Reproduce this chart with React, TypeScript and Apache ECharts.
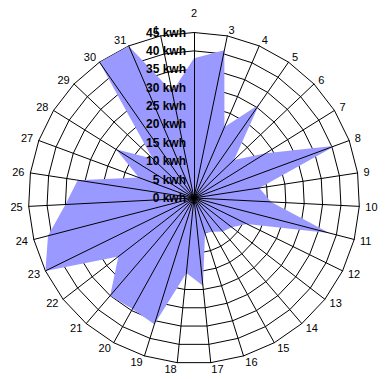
import React, { useEffect, useRef } from 'react';
import * as echarts from 'echarts';

// Categories clockwise from the top (the series starts on day 2 and ends on day 1)
const categories = [
  '2', '3', '4', '5', '6', '7', '8', '9', '10', '11', '12', '13', '14', '15', '16',
  '17', '18', '19', '20', '21', '22', '23', '24', '25', '26', '27', '28', '29', '30', '31', '1',
];
// kWh per day
const values = [
  38, 41, 21, 31, 15, 23, 41, 18, 21, 38, 16, 13, 12, 10.5, 10,
  24, 20.5, 36, 34.5, 35, 26, 45, 41, 35, 32, 16, 25, 15.5, 45, 45, 29.5,
];
const axisMin = 0;
const axisMax = 45;
const axisStep = 5;
const unit = 'kwh';

const FONT = '"Liberation Sans", Arial, sans-serif';

export default function App() {
  const ref = useRef<HTMLDivElement>(null);
  useEffect(() => {
    if (!ref.current) return;
    const chart = echarts.init(ref.current, undefined, { renderer: 'svg' });
    const n = categories.length;
    // ECharts radar runs counter-clockwise; reorder so categories run clockwise
    const order = [0];
    for (let i = n - 1; i >= 1; i--) order.push(i);
    const splitNumber = (axisMax - axisMin) / axisStep;
    const baseIndicators = order.map((i, k) =>
      k === 0
        ? { name: categories[i], min: axisMin, max: axisMax, nameGap: 14 }
        : { name: categories[i], min: axisMin, max: axisMax }
    );
    const topIndicators = order.map((i, k) =>
      k === 0
        ? { name: categories[i], min: axisMin, max: axisMax, axisLabel: { show: true } }
        : { name: categories[i], min: axisMin, max: axisMax }
    );
    const common = {
      center: [194, 198],
      radius: 165.5,
      startAngle: 90,
      splitNumber,
      shape: 'polygon' as const,
    };
    chart.setOption({
      animation: false,
      backgroundColor: '#ffffff',
      radar: [
        {
          ...common,
          z: 0,
          indicator: baseIndicators,
          axisName: {
            show: true,
            color: '#000',
            fontFamily: FONT,
            fontSize: 11,
          },
          nameGap: 6,
          axisLine: { show: false },
          splitLine: { show: true, lineStyle: { color: '#000', width: 1 } },
          splitArea: { show: false },
          axisLabel: { show: false },
          axisTick: { show: false },
        },
        {
          ...common,
          z: 5,
          indicator: topIndicators,
          axisName: { show: false },
          axisLine: { show: true, lineStyle: { color: '#000', width: 1 } },
          splitLine: { show: false },
          splitArea: { show: false },
          axisTick: { show: false },
          axisLabel: {
            show: false,
            color: '#000',
            fontFamily: FONT,
            fontSize: 12,
            fontWeight: 'bold',
            margin: 8,
            formatter: (v: number) => `${v} ${unit}`,
          },
        },
      ],
      series: [
        {
          type: 'radar',
          radarIndex: 0,
          z: 2,
          symbol: 'none',
          lineStyle: { width: 0, color: '#9999ff' },
          areaStyle: { color: '#9999ff', opacity: 1 },
          data: [{ value: order.map((i) => values[i]), name: 'kwh' }],
        },
      ],
    });
    return () => chart.dispose();
  }, []);
  return (
    <div
      ref={ref}
      style={{ position: 'fixed', left: 0, top: 0, width: 388, height: 379, background: '#fff' }}
    />
  );
}
